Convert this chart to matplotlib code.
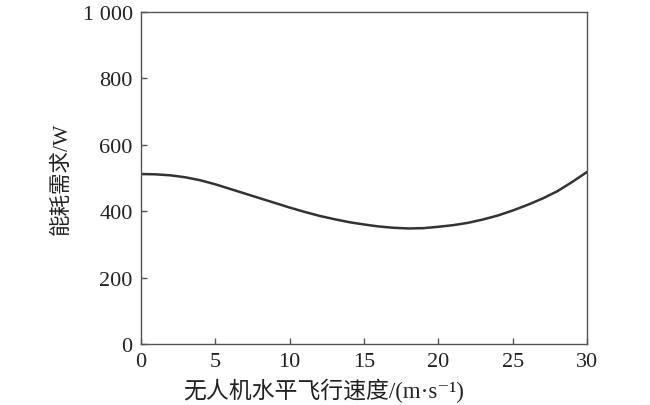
import matplotlib
matplotlib.use("Agg")
import matplotlib.pyplot as plt

speed = list(range(0, 31))
power = [512, 511, 508, 502, 493, 481, 467, 453, 439, 425,
         411, 398, 386, 376, 367, 360, 354, 350, 348, 349,
         353, 358, 365, 375, 387, 402, 419, 438, 460, 488, 518]
xticks = [0, 5, 10, 15, 20, 25, 30]
yticks = [0, 200, 400, 600, 800, 1000]
ytick_labels = ["0", "200", "400", "600", "800", "1 000"]
xlabel = "无人机水平飞行速度/(m·s⁻¹)"
ylabel = "能耗需求/W"

fam = ["Liberation Serif", "Noto Sans CJK SC", "DejaVu Serif"]
plt.rcParams["font.family"] = fam

fig = plt.figure(figsize=(6.5, 4.06), dpi=100)
ax = fig.add_axes([141/650, 1-345/406, (587-141)/650, (345-13)/406])
ax.plot(speed, power, color="#333333", lw=1.8, solid_joinstyle="round")
ax.set_xlim(0, 30)
ax.set_ylim(0, 1000)
ax.set_xticks(xticks)
ax.set_xticklabels([str(v) for v in xticks])
ax.set_yticks(yticks)
ax.set_yticklabels(ytick_labels)
ax.tick_params(direction="in", length=4, width=1, color="#555555",
               labelsize=16, labelcolor="#222222", pad=6)
for s in ax.spines.values():
    s.set_color("#555555")
    s.set_linewidth(1)
ax.set_xlabel(xlabel, fontsize=16.5, color="#222222", family=fam)
ax.set_ylabel(ylabel, fontsize=15.5, color="#222222", family=fam)
ax.xaxis.set_label_coords(0.41, -0.102)
ax.yaxis.set_label_coords(-0.155, 0.5)
fig.savefig("out.png", dpi=100, facecolor="white")
